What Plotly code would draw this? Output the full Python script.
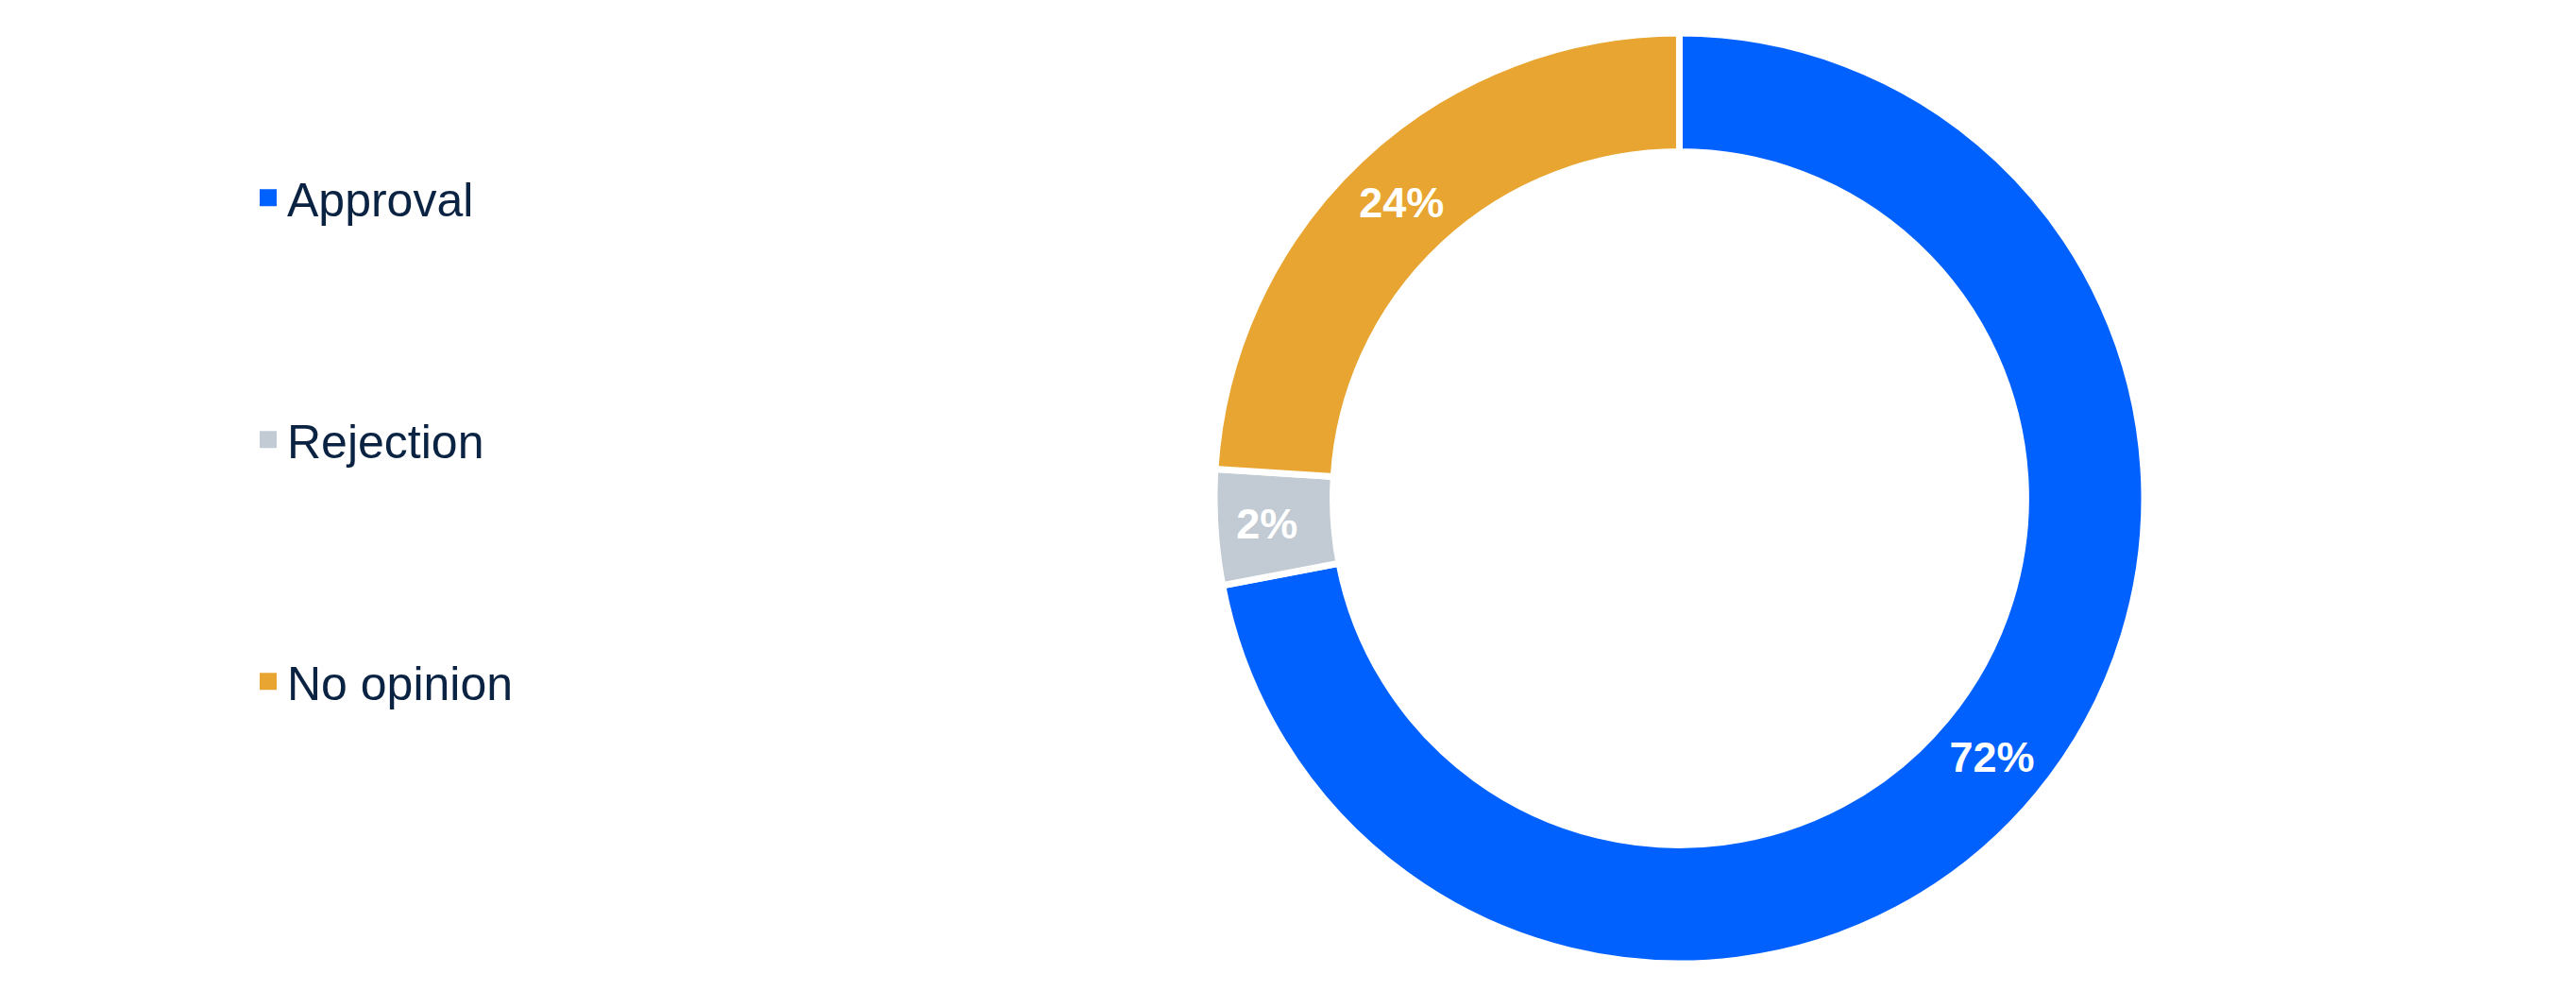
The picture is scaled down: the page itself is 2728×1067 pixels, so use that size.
import plotly.graph_objects as go

# Data
categories = ["Approval", "Rejection", "No opinion"]
values = [72, 4, 24]
value_labels = ["72%", "2%", "24%"]
colors = ["#0061FF", "#C2CAD3", "#E8A531"]

TEXT_COLOR = "#0B2343"
FONT = "Arial, Liberation Sans, sans-serif"

fig = go.Figure()

fig.add_trace(go.Pie(
    labels=categories,
    values=values,
    text=value_labels,
    textinfo="text",
    textposition="inside",
    insidetextorientation="horizontal",
    textfont=dict(family=FONT, size=45, color="white", weight="bold"),
    marker=dict(colors=colors, line=dict(color="white", width=7)),
    hole=0.745,
    sort=False,
    direction="clockwise",
    rotation=0,
    showlegend=False,
    domain=dict(x=[0.298, 1.0], y=[0.0, 1.0]),
))

# Legend entries (one group each so they can be spaced apart)
for name, col in zip(categories, colors):
    fig.add_trace(go.Scatter(
        x=[None], y=[None], mode="markers", name=name,
        legendgroup=name,
        marker=dict(symbol="square", size=16, color=col,
                    line=dict(color=col, width=2)),
        hoverinfo="skip",
    ))

fig.update_layout(
    width=2728, height=1067,
    margin=dict(l=0, r=0, t=26.5, b=54.5, autoexpand=False),
    paper_bgcolor="white",
    plot_bgcolor="white",
    xaxis=dict(visible=False),
    yaxis=dict(visible=False),
    showlegend=True,
    legend=dict(
        x=256 / 2728, xanchor="left",
        y=1 - (162 - 26.5) / 986, yanchor="top",
        font=dict(family=FONT, size=50, color=TEXT_COLOR),
        tracegroupgap=188,
        bgcolor="rgba(0,0,0,0)",
        itemsizing="trace",
        maxheight=1000,
    ),
)

fig.write_html("out.html")
